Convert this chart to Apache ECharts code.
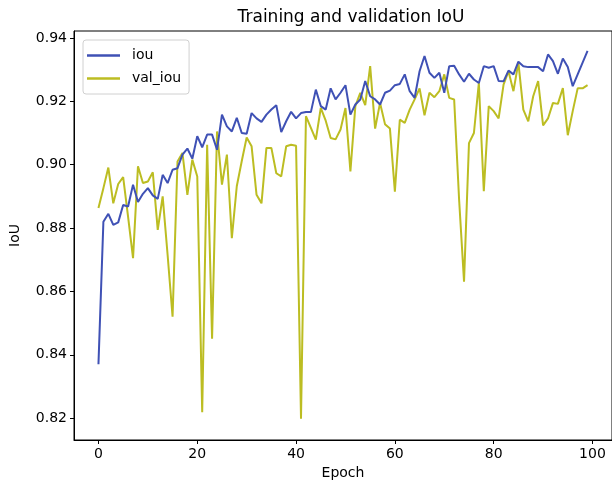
<!DOCTYPE html>
<html>
<head>
<meta charset="utf-8">
<script src="https://cdn.jsdelivr.net/npm/echarts@6/dist/echarts.min.js"></script>
<style>
  html, body { margin: 0; padding: 0; background: #fff; }
  #chart { width: 612px; height: 485px; }
</style>
</head>
<body>
<div id="chart"></div>
<script>
// values
var iou = [
  0.837, 0.882, 0.8845, 0.881, 0.8818, 0.8873, 0.8868, 0.8937, 0.8882, 0.8908,
  0.8926, 0.8903, 0.8892, 0.8968, 0.8942, 0.8984, 0.8989, 0.9032, 0.9051, 0.9019,
  0.909, 0.9055, 0.9095, 0.9095, 0.9047, 0.9158, 0.9121, 0.9105, 0.9148, 0.910,
  0.9098, 0.9163, 0.9146, 0.9135, 0.9158, 0.9174, 0.9188, 0.9103, 0.9137, 0.9167,
  0.9146, 0.9163, 0.9166, 0.9166, 0.9237, 0.9185, 0.9174, 0.9241, 0.9206, 0.9227,
  0.9251, 0.9158, 0.919, 0.9206, 0.9264, 0.9216, 0.9206, 0.919, 0.9227, 0.9234,
  0.9251, 0.9255, 0.9285, 0.9232, 0.9211, 0.9295, 0.9343, 0.929, 0.9274, 0.929,
  0.9227, 0.9311, 0.9312, 0.9285, 0.9262, 0.9287, 0.9269, 0.9258, 0.9311, 0.9306,
  0.9311, 0.9264, 0.9263, 0.9297, 0.9285, 0.9325, 0.9311, 0.9308, 0.9308, 0.9308,
  0.9295, 0.9348, 0.9327, 0.9287, 0.9335, 0.9308, 0.9248, 0.9285, 0.9322, 0.9359
];
var valIou = [
  0.8863, 0.8926, 0.8991, 0.8878, 0.8939, 0.8961, 0.8835, 0.8705, 0.8995, 0.8942,
  0.8947, 0.8976, 0.8794, 0.890, 0.8715, 0.852, 0.901, 0.9037, 0.8905, 0.9016,
  0.8963, 0.8219, 0.9063, 0.8451, 0.9105, 0.8937, 0.9032, 0.8768, 0.8932, 0.9011,
  0.9086, 0.9058, 0.8905, 0.8878, 0.9053, 0.9053, 0.8973, 0.8963, 0.9058, 0.9063,
  0.906, 0.8198, 0.9153, 0.9116, 0.9079, 0.9179, 0.9139, 0.9084, 0.908, 0.9111,
  0.9179, 0.8979, 0.9185, 0.9227, 0.9188, 0.9311, 0.9114, 0.9195, 0.9128, 0.9114,
  0.8915, 0.9142, 0.9132, 0.9174, 0.9206, 0.9241, 0.9156, 0.9227, 0.9213, 0.9232,
  0.9285, 0.9211, 0.9206, 0.889, 0.8631, 0.9068, 0.910, 0.9258, 0.8916, 0.9185,
  0.9169, 0.9146, 0.9253, 0.9295, 0.9232, 0.9322, 0.9174, 0.9137, 0.9216, 0.9264,
  0.9124, 0.9146, 0.9195, 0.9192, 0.9242, 0.9093, 0.9169, 0.9241, 0.9241, 0.9251
];
var xTicks = [0, 20, 40, 60, 80, 100];
var yTicks = [0.82, 0.84, 0.86, 0.88, 0.90, 0.92, 0.94];

function pairs(values) {
  return values.map(function (v, i) { return [i, v]; });
}

var font = 'DejaVu Sans';
var chart = echarts.init(document.getElementById('chart'));

chart.setOption({
  animation: false,
  backgroundColor: '#fff',
  title: {
    text: 'Training and validation IoU',
    left: 346, top: 4, textAlign: 'center',
    textStyle: { fontFamily: font, fontSize: 17, fontWeight: 'normal', color: '#000' }
  },
  legend: {
    orient: 'vertical',
    left: 83, top: 40,
    padding: [7, 8, 7, 4],
    icon: 'rect',
    itemWidth: 33, itemHeight: 2.5, itemGap: 6,
    borderColor: '#d0d0d0', borderWidth: 1, borderRadius: 3,
    backgroundColor: 'rgba(255,255,255,0.8)',
    textStyle: { fontFamily: font, fontSize: 14, color: '#000', padding: [0, 0, 0, 7], lineHeight: 17 },
    data: ['iou', 'val_iou']
  },
  grid: {
    left: 74, top: 31, width: 545, height: 409,
    show: true, borderColor: '#000', borderWidth: 1
  },
  xAxis: {
    type: 'value', min: -4.95, max: 103.95,
    name: 'Epoch', nameLocation: 'middle', nameGap: 24,
    nameTextStyle: { fontFamily: font, fontSize: 14, color: '#000' },
    axisLine: { show: true, onZero: false, lineStyle: { color: '#000' } },
    axisTick: { show: true, length: 4, customValues: xTicks, lineStyle: { color: '#000' } },
    axisLabel: { customValues: xTicks, margin: 7, fontFamily: font, fontSize: 14, color: '#000' },
    splitLine: { show: false }
  },
  yAxis: {
    type: 'value', min: 0.8131, max: 0.9422,
    name: 'IoU', nameLocation: 'middle', nameGap: 52,
    nameTextStyle: { fontFamily: font, fontSize: 14, color: '#000' },
    axisLine: { show: true, onZero: false, lineStyle: { color: '#000' } },
    axisTick: { show: true, length: 4, customValues: yTicks, lineStyle: { color: '#000' } },
    axisLabel: {
      customValues: yTicks, margin: 7, fontFamily: font, fontSize: 14, color: '#000',
      formatter: function (v) { return v.toFixed(2); }
    },
    splitLine: { show: false }
  },
  series: [
    {
      name: 'iou', type: 'line', data: pairs(iou),
      symbol: 'none', color: '#3f51b5',
      lineStyle: { width: 2, color: '#3f51b5' }, z: 3
    },
    {
      name: 'val_iou', type: 'line', data: pairs(valIou),
      symbol: 'none', color: '#bcbd22',
      lineStyle: { width: 2, color: '#bcbd22' }, z: 2
    }
  ]
});
</script>
</body>
</html>
